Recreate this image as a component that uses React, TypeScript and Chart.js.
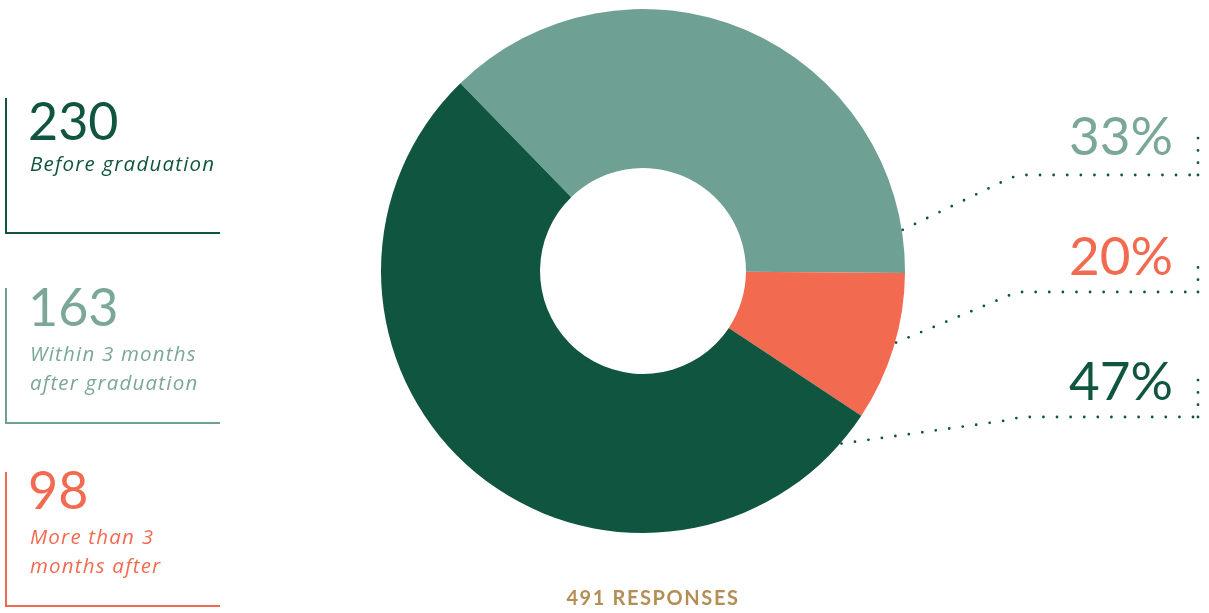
import React, { useEffect, useRef } from "react";
import { Chart, registerables } from "chart.js";

Chart.register(...registerables);

// Data
const categories = ["Within 3 months after graduation", "More than 3 months after", "Before graduation"];
const responseCounts = [163, 98, 230];
const percentLabels = ["33%", "20%", "47%"];
// Slice sizes as drawn in the reference donut (share of the full circle, %)
const sliceShares = [37.4, 9.2, 53.4];
const totalLabel = "491 RESPONSES";

const DARK = "#10553f";
const LIGHT = "#6ea194";
const LIGHT_TEXT = "#7aa798";
const ORANGE = "#f26b50";
const GOLD = "#b38e55";
const sliceColors = [LIGHT, ORANGE, DARK];

// Leader-line layout: angle on the ring (deg clockwise from top), elbow y, vertical top
const leaderAngles = [81, 105.8, 131];
const leaderRows = [175, 292, 417];
const leaderTops = [138, 256, 380];

const leaderPlugin = {
  id: "leaders",
  afterDraw(chart: any) {
    const arc = chart.getDatasetMeta(0).data[0];
    if (!arc) return;
    const { x: cx, y: cy, outerRadius: R } = arc as any;
    const ctx = chart.ctx;
    ctx.save();
    ctx.strokeStyle = DARK;
    ctx.lineWidth = 2.8;
    ctx.lineCap = "round";
    leaderAngles.forEach((deg, i) => {
      const a = (deg * Math.PI) / 180;
      const sx = cx + (R + 1) * Math.sin(a);
      const sy = cy - (R + 1) * Math.cos(a);
      const y = leaderRows[i];
      ctx.setLineDash([0, 13.6]);
      ctx.beginPath();
      ctx.moveTo(sx, sy);
      ctx.lineTo(1010, y + 3);
      ctx.lineTo(1020, y);
      ctx.lineTo(1198, y);
      ctx.stroke();
      ctx.setLineDash([0, 12.3]);
      ctx.beginPath();
      ctx.moveTo(1198, y);
      ctx.lineTo(1198, leaderTops[i]);
      ctx.stroke();
    });
    ctx.restore();
  },
};

const legendItems = [
  { value: responseCounts[2], lines: ["Before graduation"], color: DARK, text: DARK, top: 98, bottom: 233, numBase: 140, lineBase: [171] },
  { value: responseCounts[0], lines: ["Within 3 months", "after graduation"], color: LIGHT, text: LIGHT_TEXT, top: 288, bottom: 423, numBase: 326, lineBase: [361, 390] },
  { value: responseCounts[1], lines: ["More than 3", "months after"], color: ORANGE, text: ORANGE, top: 472, bottom: 606, numBase: 509, lineBase: [544, 573] },
];

const pctItems = [
  { label: percentLabels[0], color: LIGHT_TEXT, base: 155 },
  { label: percentLabels[1], color: ORANGE, base: 275 },
  { label: percentLabels[2], color: DARK, base: 400 },
];

export default function App() {
  const ref = useRef<HTMLCanvasElement>(null);
  useEffect(() => {
    if (!ref.current) return;
    const chart = new Chart(ref.current, {
      type: "doughnut",
      data: {
        labels: categories,
        datasets: [
          {
            data: sliceShares,
            backgroundColor: sliceColors,
            borderWidth: 0,
            hoverOffset: 0,
          },
        ],
      },
      options: {
        responsive: false,
        animation: false,
        rotation: -44.2,
        cutout: "39.3%",
        layout: { padding: { left: 381, right: 304, top: 9, bottom: 80 } },
        plugins: { legend: { display: false }, tooltip: { enabled: false } },
      },
      plugins: [leaderPlugin],
    });
    return () => chart.destroy();
  }, []);

  const numFont = "Lato, sans-serif";
  const itFont = "'Open Sans', sans-serif";

  return (
    <div style={{ position: "absolute", left: 0, top: 0, width: 1209, height: 613, background: "#fff" }}>
      <canvas ref={ref} width={1209} height={613} style={{ position: "absolute", left: 0, top: 0 }} />
      <svg width={1209} height={613} style={{ position: "absolute", left: 0, top: 0 }}>
        {legendItems.map((it, i) => (
          <g key={i}>
            <line x1={6} y1={it.top} x2={6} y2={it.bottom} stroke={it.color} strokeWidth={2} />
            <line x1={5} y1={it.bottom} x2={220} y2={it.bottom} stroke={it.color} strokeWidth={2} />
            <text x={28} y={it.numBase} fill={it.text} style={{ fontFamily: numFont, fontSize: 52, fontWeight: 400 }}>
              {it.value}
            </text>
            {it.lines.map((ln, j) => (
              <text
                key={j}
                x={30}
                y={it.lineBase[j]}
                fill={it.text}
                style={{ fontFamily: itFont, fontSize: 20.5, fontStyle: "italic", letterSpacing: 1.2 }}
              >
                {ln}
              </text>
            ))}
          </g>
        ))}
        {pctItems.map((p, i) => (
          <text
            key={i}
            x={1173}
            y={p.base}
            textAnchor="end"
            fill={p.color}
            style={{ fontFamily: numFont, fontSize: 53, fontWeight: 400 }}
          >
            {p.label}
          </text>
        ))}
        <text
          x={653}
          y={605}
          textAnchor="middle"
          fill={GOLD}
          style={{ fontFamily: numFont, fontSize: 20, fontWeight: 700, letterSpacing: 1.6 }}
        >
          {totalLabel}
        </text>
      </svg>
    </div>
  );
}
